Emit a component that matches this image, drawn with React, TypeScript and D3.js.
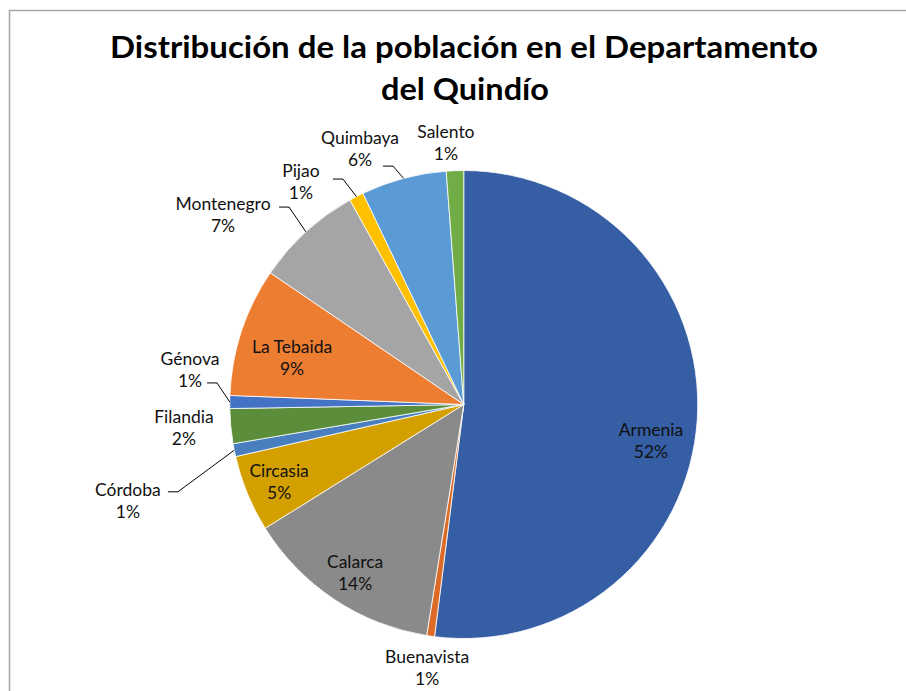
import React from "react";
import * as d3 from "d3";

const municipios = ["Armenia", "Buenavista", "Calarca", "Circasia", "Córdoba", "Filandia", "Génova", "La Tebaida", "Montenegro", "Pijao", "Quimbaya", "Salento"];
const poblacion = [296400, 3100, 77500, 30200, 5100, 13700, 5100, 50700, 42200, 5700, 33600, 6800];
const colores = ["#355EA5", "#DC6B28", "#8A8A8A", "#D4A000", "#4A7FBF", "#5B8D3A", "#4472C4", "#ED7D31", "#A5A5A5", "#FFC000", "#5B9BD5", "#70AD47"];
const titleLines = ["Distribución de la población en el Departamento", "del Quindío"];

// label layout: polar angle (deg, clockwise from top), radius in units of R
const labelAngle = [101.0, 187.9, 212.8, 247.2, 254.0, 265.2, 277.2, 285.1, 308.2, 323.8, 337.9, 356.1];
const labelRadius = [0.815, 1.137, 0.857, 0.856, 1.493, 1.2, 1.179, 0.76, 1.309, 1.178, 1.178, 1.12];
// leader: [startDx from label center, dy from label center] or null
const leaders: ([number, number] | null)[] = [null, null, null, null, [40, -9], null, [17, 13], null, [56, -8], [32, -3], [23, 17], null];

const W = 906, H = 691;
const cx = 463.75, cy = 404.5, R = 234;

export default function App() {
  const total = d3.sum(poblacion);
  const pie = d3.pie<number>().sort(null).value((d) => d).startAngle(0).endAngle(2 * Math.PI);
  const arcs = pie(poblacion);
  const arc = d3.arc<d3.PieArcDatum<number>>().innerRadius(0).outerRadius(R);
  const polar = (a: number, r: number) => [cx + r * Math.sin(a), cy - r * Math.cos(a)];
  const font = "Lato, 'Open Sans', sans-serif";

  return (
    <svg width={W} height={H} style={{ position: "absolute", left: 0, top: 0, background: "#fff" }}>
      <rect x={9.5} y={10.5} width={W + 20} height={H + 20} fill="#fff" stroke="#A6A6A6" strokeWidth={1.5} />
      <text x={464} y={58} textAnchor="middle" fontFamily={font} fontWeight={700} fontSize={31} fill="#000" textLength={708} lengthAdjust="spacingAndGlyphs">{titleLines[0]}</text>
      <text x={465} y={100} textAnchor="middle" fontFamily={font} fontWeight={700} fontSize={31} fill="#000" textLength={168} lengthAdjust="spacingAndGlyphs">{titleLines[1]}</text>
      <g transform={`translate(${cx},${cy})`}>
        {arcs.map((a, i) => (
          <path key={i} d={arc(a) || ""} fill={colores[i]} stroke="#fff" strokeWidth={0.8} />
        ))}
      </g>
      {arcs.map((a, i) => {
        const ang = (labelAngle[i] * Math.PI) / 180;
        const [lx, ly] = polar(ang, labelRadius[i] * R);
        const pct = Math.round((poblacion[i] / total) * 100) + "%";
        const ld = leaders[i];
        let leader = null;
        if (ld) {
          const mid = (a.startAngle + a.endAngle) / 2;
          const [ax, ay] = polar(mid, R);
          const sx = lx + ld[0], sy = ly + ld[1];
          const line = d3.line()([[sx, sy], [sx + 10, sy], [ax, ay]]);
          leader = <path d={line || ""} fill="none" stroke="#000" strokeWidth={1} />;
        }
        return (
          <g key={"l" + i}>
            {leader}
            <text x={lx} y={ly - 11 + 6} textAnchor="middle" fontFamily={font} fontSize={17.5} fill="#111">{municipios[i]}</text>
            <text x={lx} y={ly + 11 + 6} textAnchor="middle" fontFamily={font} fontSize={17.5} fill="#111">{pct}</text>
          </g>
        );
      })}
    </svg>
  );
}
